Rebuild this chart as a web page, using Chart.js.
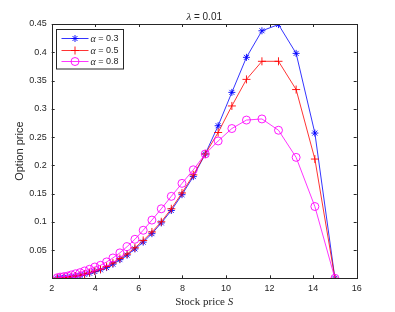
<!DOCTYPE html>
<html>
<head>
<meta charset="utf-8">
<script src="https://cdn.jsdelivr.net/npm/chart.js@4/dist/chart.umd.min.js"></script>
<style>
html,body{margin:0;padding:0;background:#fff;}
#wrap{width:395px;height:312px;position:relative;}
</style>
</head>
<body>
<div id="wrap"><canvas id="c" width="395" height="312"></canvas></div>
<script>
// ---- data ----
const stockPrice = [2.26, 2.40, 2.56, 2.73, 2.90, 3.09, 3.30, 3.51, 3.74, 3.98, 4.24, 4.52, 4.81, 5.13, 5.46, 5.82, 6.20, 6.60, 7.03, 7.49, 7.98, 8.50, 9.05, 9.64, 10.27, 10.94, 11.65, 12.41, 13.22, 14.08, 15.00];
const alpha03 = [0.0005, 0.001, 0.0015, 0.002, 0.003, 0.004, 0.005, 0.007, 0.009, 0.012, 0.015, 0.019, 0.025, 0.033, 0.041, 0.052, 0.064, 0.079, 0.098, 0.120, 0.148, 0.180, 0.220, 0.270, 0.329, 0.391, 0.438, 0.449, 0.398, 0.257, 0];
const alpha05 = [0.0005, 0.001, 0.0015, 0.002, 0.003, 0.004, 0.0055, 0.0075, 0.010, 0.013, 0.016, 0.021, 0.027, 0.035, 0.043, 0.054, 0.067, 0.082, 0.100, 0.123, 0.151, 0.183, 0.220, 0.258, 0.305, 0.352, 0.384, 0.384, 0.334, 0.211, 0];
const alpha08 = [0.001, 0.002, 0.003, 0.004, 0.006, 0.008, 0.010, 0.013, 0.016, 0.020, 0.023, 0.029, 0.036, 0.045, 0.056, 0.069, 0.085, 0.103, 0.123, 0.145, 0.168, 0.192, 0.220, 0.243, 0.265, 0.280, 0.282, 0.262, 0.214, 0.127, 0];
const seriesLabels = ['0.3', '0.5', '0.8'];
const xTicks = [2, 4, 6, 8, 10, 12, 14, 16];
const yTicks = [0.05, 0.1, 0.15, 0.2, 0.25, 0.3, 0.35, 0.4, 0.45];
const titleLambda = '0.01';

const AX = '#262626';
const colors = ['#0000ff', '#ff0000', '#ff00ff'];
const styles = ['star', 'cross', 'circle'];
const radii = [3.5, 4, 4];
const allSeries = [alpha03, alpha05, alpha08];

function toXY(ys){ return stockPrice.map((s,i)=>({x:s, y:ys[i]})); }

const datasets = allSeries.map((ys, i) => ({
  label: 'α = ' + seriesLabels[i],
  data: toXY(ys),
  borderColor: colors[i],
  backgroundColor: 'rgba(0,0,0,0)',
  borderWidth: 0.8,
  pointStyle: styles[i],
  pointRadius: radii[i],
  pointBorderColor: colors[i],
  pointBackgroundColor: 'rgba(0,0,0,0)',
  pointBorderWidth: 0.9,
  tension: 0,
  order: 2 - i
}));

const decor = {
  id: 'decor',
  afterDraw(chart){
    const ctx = chart.ctx;
    const a = chart.chartArea;
    const xs = chart.scales.x, ys = chart.scales.y;
    ctx.save();
    // box
    ctx.strokeStyle = AX; ctx.lineWidth = 1;
    ctx.strokeRect(Math.round(a.left)+0.5, Math.round(a.top)+0.5, Math.round(a.right)-Math.round(a.left), Math.round(a.bottom)-Math.round(a.top));
    // inward ticks
    const tl = 3;
    ctx.beginPath();
    xTicks.forEach(v => {
      const px = Math.round(xs.getPixelForValue(v)) + 0.5;
      ctx.moveTo(px, a.bottom); ctx.lineTo(px, a.bottom - tl);
      ctx.moveTo(px, a.top); ctx.lineTo(px, a.top + tl);
    });
    yTicks.forEach(v => {
      const py = Math.round(ys.getPixelForValue(v)) + 0.5;
      ctx.moveTo(a.left, py); ctx.lineTo(a.left + tl, py);
      ctx.moveTo(a.right, py); ctx.lineTo(a.right - tl, py);
    });
    ctx.stroke();

    // title
    ctx.fillStyle = AX;
    ctx.textBaseline = 'alphabetic';
    const cx = (a.left + a.right) / 2;
    const f1 = 'italic 11px "Liberation Serif"';
    const f2 = '10px "Liberation Sans"';
    ctx.font = f1; const w1 = ctx.measureText('λ').width;
    ctx.font = f2; const t2 = ' = ' + titleLambda; const w2 = ctx.measureText(t2).width;
    let tx = cx - (w1 + w2) / 2;
    ctx.textAlign = 'left';
    ctx.font = f1; ctx.fillText('λ', tx, 19.5);
    ctx.font = f2; ctx.fillText(t2, tx + w1, 19.5);

    // x title
    const g1 = '11px "Liberation Serif"', g2 = 'italic 11px "Liberation Serif"';
    ctx.font = g1; const xa = 'Stock price '; const wa = ctx.measureText(xa).width;
    ctx.font = g2; const wb = ctx.measureText('S').width;
    tx = cx - (wa + wb) / 2;
    ctx.font = g1; ctx.fillText(xa, tx, 305);
    ctx.font = g2; ctx.fillText('S', tx + wa, 305);

    // y title
    ctx.save();
    ctx.translate(20, (a.top + a.bottom) / 2);
    ctx.rotate(-Math.PI / 2);
    ctx.font = '11px "Liberation Sans"';
    ctx.textAlign = 'center'; ctx.textBaseline = 'middle';
    ctx.fillText('Option price', 0, 0);
    ctx.restore();

    // legend
    const L = {x0: 56, y0: 29, x1: 124, y1: 69.5};
    ctx.fillStyle = '#fff';
    ctx.fillRect(L.x0, L.y0, L.x1 - L.x0, L.y1 - L.y0);
    ctx.strokeStyle = AX; ctx.lineWidth = 1;
    ctx.strokeRect(L.x0 + 0.5, L.y0 + 0.5, L.x1 - L.x0 - 1, L.y1 - L.y0 - 1);
    const rows = [38.5, 50.5, 61.5];
    rows.forEach((ry, i) => {
      ctx.strokeStyle = colors[i]; ctx.lineWidth = 0.8;
      ctx.beginPath(); ctx.moveTo(61.5, ry); ctx.lineTo(88.5, ry); ctx.stroke();
      ctx.strokeStyle = colors[i]; ctx.fillStyle = 'rgba(0,0,0,0)'; ctx.lineWidth = 0.9;
      Chart.helpers.drawPoint(ctx, {pointStyle: styles[i], radius: radii[i], borderWidth: 0.9, rotation: 0}, 75, ry);
      ctx.fillStyle = AX;
      ctx.textAlign = 'left'; ctx.textBaseline = 'middle';
      ctx.font = 'italic 10px "Liberation Serif"';
      const aw = ctx.measureText('α').width;
      ctx.fillText('α', 90.5, ry + 0.5);
      ctx.font = '9px "Liberation Sans"';
      ctx.fillText(' = ' + seriesLabels[i], 90.5 + aw, ry + 0.5);
    });
    ctx.restore();
  }
};

new Chart(document.getElementById('c'), {
  type: 'line',
  data: { datasets },
  options: {
    responsive: false,
    animation: false,
    devicePixelRatio: 1,
    layout: { padding: { top: 24, right: 38.3, bottom: 0, left: 0 } },
    plugins: { legend: { display: false }, title: { display: false }, tooltip: { enabled: false } },
    scales: {
      x: {
        type: 'linear', min: 2, max: 16,
        afterBuildTicks: s => { s.ticks = xTicks.map(v => ({value: v})); },
        afterFit: s => { s.height = 33.7; },
        grid: { display: false, drawTicks: false },
        border: { display: false },
        ticks: { color: AX, font: { family: 'Liberation Sans', size: 9 }, padding: 5, maxRotation: 0 }
      },
      y: {
        type: 'linear', min: 0, max: 0.45,
        afterBuildTicks: s => { s.ticks = yTicks.map(v => ({value: v})); },
        afterFit: s => { s.width = 51.7; },
        grid: { display: false, drawTicks: false },
        border: { display: false },
        ticks: { color: AX, font: { family: 'Liberation Sans', size: 9 }, padding: 5,
          callback: v => String(+v.toFixed(2)) }
      }
    }
  },
  plugins: [decor]
});
</script>
</body>
</html>
